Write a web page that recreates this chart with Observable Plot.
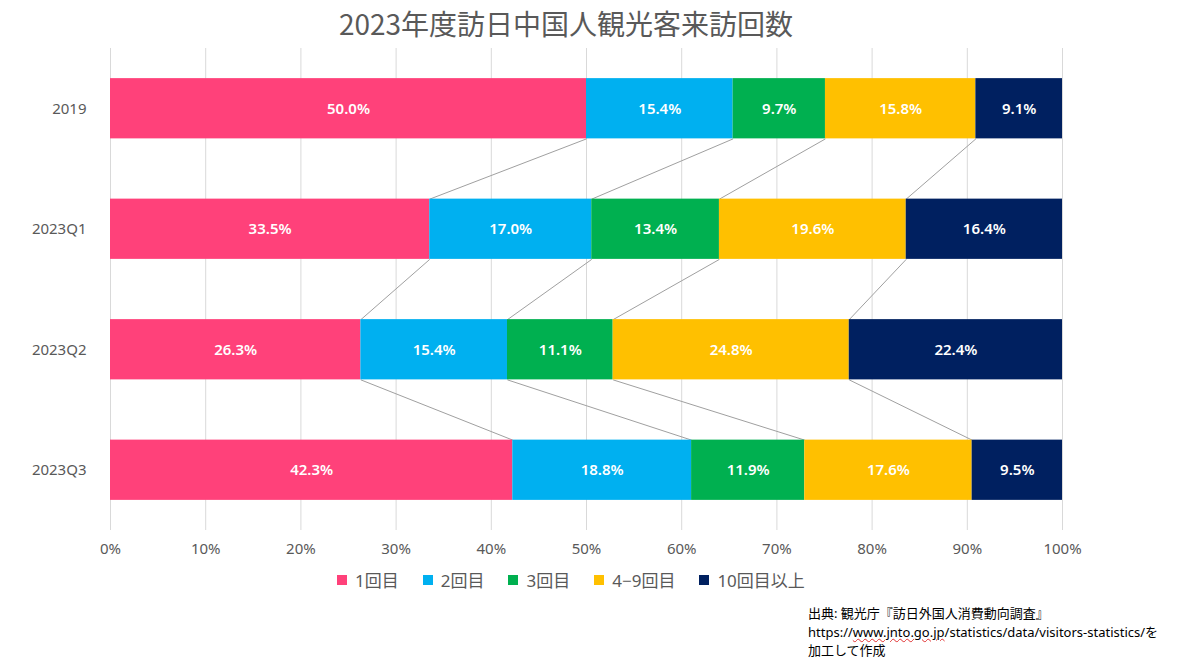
<!DOCTYPE html>
<html>
<head>
<meta charset="utf-8">
<script src="https://cdn.jsdelivr.net/npm/d3@7"></script>
<script src="https://cdn.jsdelivr.net/npm/@observablehq/plot@0.6"></script>
<style>
  html, body { margin: 0; padding: 0; background: #fff; }
  #wrap { position: relative; width: 1200px; height: 659px; overflow: hidden;
          font-family: "Noto Sans", "Noto Sans CJK JP", sans-serif; }
  #title { position: absolute; left: 0; width: 1132px; top: 3px; text-align: center;
           font-size: 28px; color: #595959; font-family: "Noto Sans CJK JP", "Noto Sans", sans-serif; }
  #chart { position: absolute; left: 0; top: 40px; }
  #legend { position: absolute; left: 337px; top: 567px; display: flex; gap: 24px;
            font-size: 17px; color: #595959; font-family: "Noto Sans", "Noto Sans CJK JP", sans-serif; }
  #legend .item { display: flex; align-items: center; gap: 8px; }
  #legend .sw { width: 10px; height: 10px; display: inline-block; }
  #caption { position: absolute; left: 808px; top: 604px; font-size: 13px; line-height: 18.5px; color: #000;
             font-family: "Noto Sans", "Noto Sans CJK JP", sans-serif; }
  #caption .sq { text-decoration: underline wavy #e03030; text-decoration-thickness: 1px; }
</style>
</head>
<body>
<div id="wrap">
  <div id="title">2023年度訪日中国人観光客来訪回数</div>
  <div id="chart"></div>
  <div id="legend"></div>
  <div id="caption">出典: 観光庁『訪日外国人消費動向調査』<br>https://<span class="sq">www.jnto.go.jp</span>/statistics/data/visitors-statistics/を<br>加工して作成</div>
</div>
<script>
const categories = ["2019", "2023Q1", "2023Q2", "2023Q3"];
const series = ["1回目", "2回目", "3回目", "4−9回目", "10回目以上"];
const colors = ["#FF417A", "#00B0F0", "#00B050", "#FFC000", "#002060"];
const once = [50.0, 33.5, 26.3, 42.3];
const twice = [15.4, 17.0, 15.4, 18.8];
const thrice = [9.7, 13.4, 11.1, 11.9];
const fourToNine = [15.8, 19.6, 24.8, 17.6];
const tenPlus = [9.1, 16.4, 22.4, 9.5];
const xTicks = [0, 0.1, 0.2, 0.3, 0.4, 0.5, 0.6, 0.7, 0.8, 0.9, 1.0];

const seriesValues = [once, twice, thrice, fourToNine, tenPlus];

// Build 100%-stacked table
const rows = [];
const cums = [];
categories.forEach((cat, i) => {
  const vals = seriesValues.map(s => s[i]);
  const total = d3.sum(vals);
  let acc = 0;
  const cum = [0];
  vals.forEach((v, k) => {
    const x1 = acc / total;
    acc += v;
    const x2 = acc / total;
    cum.push(x2);
    rows.push({cat, i, series: series[k], value: v, x1, x2, xm: (x1 + x2) / 2});
  });
  cums.push(cum);
});

const half = 0.25;
const links = [];
for (let i = 0; i < categories.length - 1; i++) {
  for (let k = 1; k < series.length; k++) {
    links.push({x1: cums[i][k], y1: i + half, x2: cums[i + 1][k], y2: i + 1 - half});
  }
}

const plot = Plot.plot({
  width: 1200,
  height: 540,
  marginLeft: 110,
  marginRight: 138,
  marginTop: 8,
  marginBottom: 50,
  style: {fontFamily: '"Noto Sans", "Noto Sans CJK JP", sans-serif', fontSize: "15px", color: "#595959", background: "transparent"},
  x: {domain: [0, 1], ticks: xTicks, tickFormat: d3.format(".0%"), label: null},
  y: {domain: [-0.5, 3.5], reverse: true, label: null},
  color: {domain: series, range: colors},
  marks: [
    Plot.gridX(xTicks, {stroke: "#D9D9D9", strokeOpacity: 1, strokeWidth: 1}),
    Plot.axisX(xTicks, {tickSize: 0, tickPadding: 13, tickFormat: d3.format(".0%"), fontSize: 15, fill: "#595959", label: null}),
    Plot.axisY([0, 1, 2, 3], {tickSize: 0, tickPadding: 24, tickFormat: i => categories[i], fontSize: 15, fill: "#595959", label: null}),
    Plot.link(links, {x1: "x1", y1: "y1", x2: "x2", y2: "y2", stroke: "#A0A0A0", strokeWidth: 1}),
    Plot.rect(rows, {x1: "x1", x2: "x2", y1: d => d.i - half, y2: d => d.i + half, fill: "series"}),
    Plot.text(rows, {x: "xm", y: "i", text: d => d.value.toFixed(1) + "%", fill: "white", fontSize: 15, fontWeight: 600})
  ]
});
document.getElementById("chart").appendChild(plot);

const legend = document.getElementById("legend");
series.forEach((s, k) => {
  const item = document.createElement("div");
  item.className = "item";
  const sw = document.createElement("span");
  sw.className = "sw";
  sw.style.background = colors[k];
  const t = document.createElement("span");
  t.textContent = s;
  item.appendChild(sw);
  item.appendChild(t);
  legend.appendChild(item);
});
</script>
</body>
</html>
